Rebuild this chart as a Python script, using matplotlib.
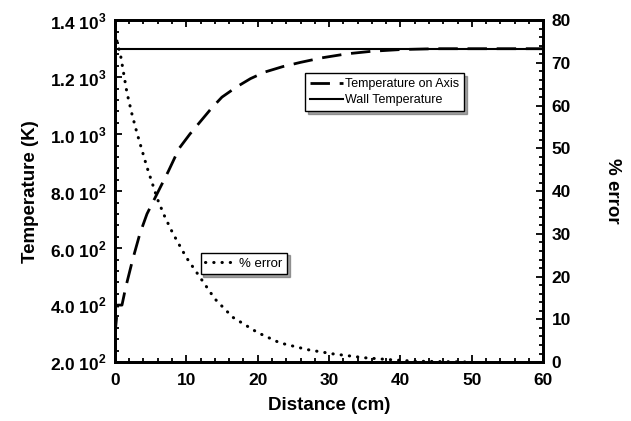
import numpy as np
import matplotlib
matplotlib.use("Agg")
import matplotlib.pyplot as plt
from matplotlib.ticker import MultipleLocator, FixedLocator

plt.rcParams['font.family'] = ['Liberation Sans', 'DejaVu Sans']
plt.rcParams['mathtext.fontset'] = 'custom'
plt.rcParams['mathtext.rm'] = 'Liberation Sans:bold'
plt.rcParams['mathtext.bf'] = 'Liberation Sans:bold'

# --- données ---
dist_axe = [0, 0.4, 1.0, 1.5, 2.5, 3.5, 4.5, 6.0, 7.5, 9.0, 10.5, 12.0, 13.5, 15.0, 17.0,
            19.0, 21.0, 23.5, 26.0, 29.0, 32.5, 36.0, 40.0, 45.0, 60.0]
temp_axe = [290, 400, 400, 460, 560, 650, 720, 795, 870, 950, 1000, 1045, 1090, 1130, 1165,
            1195, 1218, 1237, 1252, 1268, 1282, 1291, 1297, 1300, 1300]

dist_mur = [0, 60]
temp_mur = [1300, 1300]

dist_err = [0, 0.8, 1.7, 2.4, 3.1, 4.5, 6.0, 7.0, 8.1, 10.0, 11.9, 14.0, 16.5, 20.0, 23.1,
            27.0, 30.6, 35.0, 39.0, 42.0, 50.0]
err = [77.0, 71.8, 63.0, 58.0, 53.6, 45.6, 38.0, 34.0, 30.2, 24.5, 19.9, 14.8, 10.5, 6.9, 4.5,
       2.9, 1.9, 1.0, 0.5, 0.2, 0.0]

yticks_T = [200, 400, 600, 800, 1000, 1200, 1400]
yticklabels_T = [r"$2.0\;10^{2}$", r"$4.0\;10^{2}$", r"$6.0\;10^{2}$", r"$8.0\;10^{2}$",
                 r"$1.0\;10^{3}$", r"$1.2\;10^{3}$", r"$1.4\;10^{3}$"]

# --- tracé ---
fig = plt.figure(figsize=(6.31, 4.21), dpi=100)
ax = fig.add_axes([0.182, 0.140, 0.679, 0.812])

l1, = ax.plot(dist_axe, temp_axe, color="black", lw=2.0, dashes=(7, 3.5),
              label="Temperature on Axis")
l2, = ax.plot(dist_mur, temp_mur, color="black", lw=1.5, label="Wall Temperature")

ax.set_xlim(0, 60)
ax.set_ylim(200, 1400)
ax.xaxis.set_major_locator(MultipleLocator(10))
ax.xaxis.set_minor_locator(MultipleLocator(2))
ax.yaxis.set_major_locator(FixedLocator(yticks_T))
ax.yaxis.set_minor_locator(MultipleLocator(40))
ax.set_yticklabels(yticklabels_T)
ax.set_xlabel("Distance (cm)", fontsize=13.5, fontweight="bold", labelpad=6)
ax.set_ylabel("Temperature (K)", fontsize=13.5, fontweight="bold", labelpad=8)

ax2 = ax.twinx()
l3, = ax2.plot(dist_err, err, color="black", lw=2.2, linestyle=(0, (0.1, 2.6)),
               dash_capstyle="round", label="% error")
ax2.set_ylim(0, 80)
ax2.yaxis.set_major_locator(MultipleLocator(10))
ax2.yaxis.set_minor_locator(MultipleLocator(2))
ax2.set_ylabel("% error", fontsize=13.5, fontweight="bold", rotation=270, labelpad=36)

for a in (ax, ax2):
    a.tick_params(which="both", direction="in", width=1.3, labelsize=12.5)
    a.tick_params(which="major", length=5)
    a.tick_params(which="minor", length=3)
    for lab in a.get_xticklabels() + a.get_yticklabels():
        lab.set_fontweight("bold")
    for s in a.spines.values():
        s.set_linewidth(2)
ax.tick_params(axis="x", which="both", top=True, pad=8)
ax.tick_params(axis="y", pad=6)
ax2.tick_params(axis="y", pad=6)

leg1 = ax2.legend(handles=[l1, l2], loc="upper left", bbox_to_anchor=(0.444, 0.845),
                  fontsize=9, frameon=True, fancybox=False, shadow=True,
                  edgecolor="black", handlelength=2.6, borderpad=0.4, labelspacing=0.3,
                  handletextpad=0.2, borderaxespad=0)
leg1.get_frame().set_linewidth(1.0)
ax2.add_artist(leg1)
leg2 = ax2.legend(handles=[l3], loc="upper left", bbox_to_anchor=(0.20, 0.32),
                  fontsize=9.5, frameon=True, fancybox=False, shadow=True,
                  edgecolor="black", handlelength=2.4, borderpad=0.35, handletextpad=0.2,
                  borderaxespad=0)
leg2.get_frame().set_linewidth(1.0)

fig.savefig("out.png", dpi=100)
